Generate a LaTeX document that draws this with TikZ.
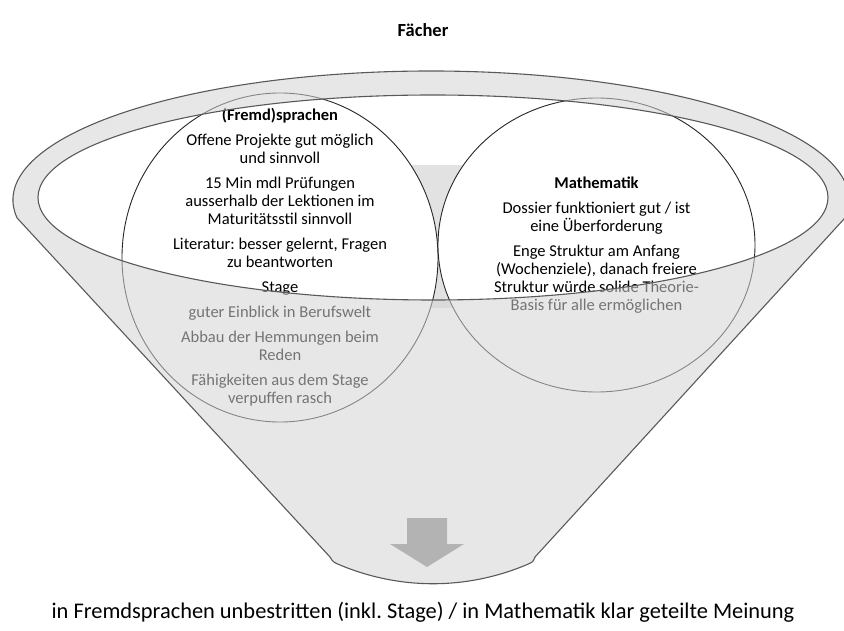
\documentclass[tikz,border=0pt]{standalone}
\usepackage{fontspec}
\setmainfont{Carlito}
\usepackage{tikz}
\usetikzlibrary{positioning, shapes.geometric}
\definecolor{FunnelGray}{HTML}{D4D4D4}
\definecolor{RimGray}{HTML}{595959}
\definecolor{ArrowGray}{HTML}{B3B3B3}
\definecolor{BackGray}{HTML}{E2E2E2}
\frenchspacing

\begin{document}
\begin{tikzpicture}[x=1pt, y=1pt,
    every node/.style={font=\fontsize{16.5}{18}\selectfont},
    topic/.style={ellipse, draw=black!85, line width=0.9pt, fill=white, inner sep=0pt},
    topictext/.style={align=center, inner sep=0pt}]
  \useasboundingbox (0,0) rectangle (844,630);

  \node[font=\bfseries\fontsize{18.5}{22}\selectfont] (title) at (423,600) {Fächer};

  % back of the funnel, seen between the circles
  \fill[BackGray] (405,322) rectangle (470,465);

  \node[topic, minimum width=316pt, minimum height=329pt] (sprachen) at (280,372.5) {};
  \node[topic, minimum width=317pt, minimum height=294pt] (mathe) at (596.5,385) {};

  \node[topictext] (sprachenText) at (sprachen.center) {%
    \textbf{(Fremd)sprachen}\\[7pt]
    Offene Projekte gut möglich\\ und sinnvoll\\[7pt]
    15 Min mdl Prüfungen\\ ausserhalb der Lektionen im\\ Maturitätsstil sinnvoll\\[7pt]
    Literatur: besser gelernt, Fragen\\ zu beantworten\\[7pt]
    Stage\\[7pt]
    guter Einblick in Berufswelt\\[7pt]
    Abbau der Hemmungen beim\\ Reden\\[7pt]
    Fähigkeiten aus dem Stage\\ verpuffen rasch};
  \node[topictext] (matheText) at (mathe.center) {%
    \textbf{Mathematik}\\[7pt]
    Dossier funktioniert gut / ist\\ eine Überforderung\\[7pt]
    Enge Struktur am Anfang\\ (Wochenziele), danach freiere\\ Struktur würde solide Theorie-\\ Basis für alle ermöglichen};

  % funnel body, laid over circles and text
  \filldraw[fill=FunnelGray, fill opacity=0.55, draw=RimGray, line width=1.1pt, even odd rule]
    (17.07,412.05) arc[start angle=188, end angle=-8, x radius=418, y radius=129]
    -- (535,73) .. controls (533,68) .. (526,65)
    .. controls (466,40) and (400,40) .. (340,65)
    .. controls (333,68) .. (330,73) -- cycle
    (433,432.5) ellipse[x radius=395, y radius=102.5];

  \fill[ArrowGray] (407,112) -- (447,112) -- (447,86) -- (464,86)
    -- (427,63) -- (390,86) -- (407,86) -- cycle;

  \node[font=\fontsize{22.4}{26}\selectfont] (fazit) at (423,18)
    {in Fremdsprachen unbestritten (inkl. Stage) / in Mathematik klar geteilte Meinung};
\end{tikzpicture}
\end{document}
